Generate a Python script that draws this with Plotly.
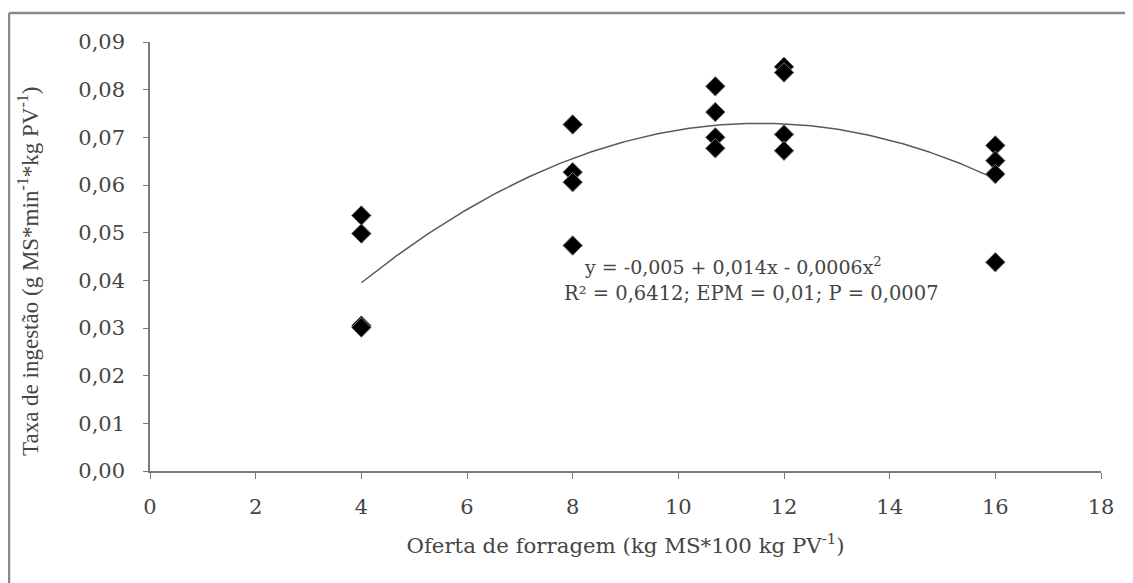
import numpy as np
import plotly.graph_objects as go

# ---- data ----
oferta = [4, 4, 4, 4,
          8, 8, 8, 8,
          10.7, 10.7, 10.7, 10.7,
          12, 12, 12, 12,
          16, 16, 16, 16]
taxa = [0.0536, 0.0498, 0.0305, 0.0301,
        0.0727, 0.0627, 0.0606, 0.0473,
        0.0807, 0.0753, 0.0700, 0.0677,
        0.0848, 0.0836, 0.0706, 0.0672,
        0.0683, 0.0651, 0.0623, 0.0438]

x_ticks = [0, 2, 4, 6, 8, 10, 12, 14, 16, 18]
y_ticks = [0.00, 0.01, 0.02, 0.03, 0.04, 0.05, 0.06, 0.07, 0.08, 0.09]

eq_line1 = "y = -0,005 + 0,014x - 0,0006x<sup>2</sup>"
eq_line2 = "R² = 0,6412; EPM = 0,01; P = 0,0007"
y_title = "Taxa de ingestão (g MS*min<sup>-1</sup>*kg PV<sup>-1</sup>)"
x_title = "Oferta de forragem (kg MS*100 kg PV<sup>-1</sup>)"

# quadratic trendline fitted to the data (as the spreadsheet trendline)
coef = np.polyfit(oferta, taxa, 2)
xs = np.linspace(min(oferta), max(oferta), 200)
ys = np.polyval(coef, xs)

# page has an 8px body margin; figure is sized to fill the rest of the window
OFF = 8
W, H = 1133 - OFF, 583 - OFF
L, R, T, B = 142, 32, 34, 112
pw, ph = W - L - R, H - T - B

def px(xp):
    """page-pixel x -> paper coordinate"""
    return (xp - OFF - L) / pw

def py(yp):
    """page-pixel y -> paper coordinate"""
    return (H - B - (yp - OFF)) / ph

TXT = "#454545"
AX = "#7a7a7a"
SERIF_H = "DejaVu Serif"
SERIF_V = "Liberation Serif"

fig = go.Figure()
fig.add_trace(go.Scatter(x=xs, y=ys, mode="lines",
                         line=dict(color="#5a5a5a", width=1.5),
                         hoverinfo="skip", showlegend=False))
fig.add_trace(go.Scatter(x=oferta, y=taxa, mode="markers",
                         marker=dict(symbol="diamond", size=15, color="black",
                                     line=dict(color="#777777", width=1)),
                         showlegend=False))

fig.add_annotation(x=11.03, y=0.0431, xref="x", yref="y", text=eq_line1,
                   showarrow=False, xanchor="center", yanchor="middle",
                   font=dict(family=SERIF_H, size=19, color=TXT))
fig.add_annotation(x=11.39, y=0.0373, xref="x", yref="y", text=eq_line2,
                   showarrow=False, xanchor="center", yanchor="middle",
                   font=dict(family=SERIF_H, size=19.5, color=TXT))

# y-axis title (placed slightly below the plot centre, as in the reference)
fig.add_annotation(x=px(28), y=py(271), xref="paper", yref="paper",
                   text=y_title, textangle=-90, showarrow=False,
                   xanchor="center", yanchor="middle",
                   font=dict(family=SERIF_V, size=23, color=TXT))

# outer frame (top and left edges visible)
fig.add_shape(type="line", xref="paper", yref="paper",
              x0=px(9), x1=px(1133), y0=py(13), y1=py(13),
              line=dict(color="#8a8a8a", width=2.5))
fig.add_shape(type="line", xref="paper", yref="paper",
              x0=px(9), x1=px(9), y0=py(13), y1=py(583),
              line=dict(color="#8a8a8a", width=2.5))

fig.update_layout(
    width=W, height=H,
    margin=dict(l=L, r=R, t=T, b=B),
    plot_bgcolor="white", paper_bgcolor="white",
    separators=",.",
    showlegend=False,
    xaxis=dict(range=[0, 18], tickvals=x_ticks, ticktext=[str(v) for v in x_ticks],
               showgrid=False, zeroline=False,
               showline=True, linecolor=AX, linewidth=1.5,
               ticks="outside", ticklen=6, tickcolor=AX, tickwidth=1,
               ticklabelstandoff=10,
               tickfont=dict(family=SERIF_H, size=21, color=TXT),
               title=dict(text=x_title, standoff=20,
                          font=dict(family=SERIF_H, size=21.3, color=TXT))),
    yaxis=dict(range=[0, 0.09], tickvals=y_ticks,
               ticktext=[f"{v:.2f}".replace(".", ",") for v in y_ticks],
               showgrid=False, zeroline=False,
               showline=True, linecolor=AX, linewidth=1.5,
               ticks="outside", ticklen=5, tickcolor=AX, tickwidth=1,
               ticklabelstandoff=14,
               tickfont=dict(family=SERIF_H, size=21, color=TXT)),
)

fig.write_html("out.html")
